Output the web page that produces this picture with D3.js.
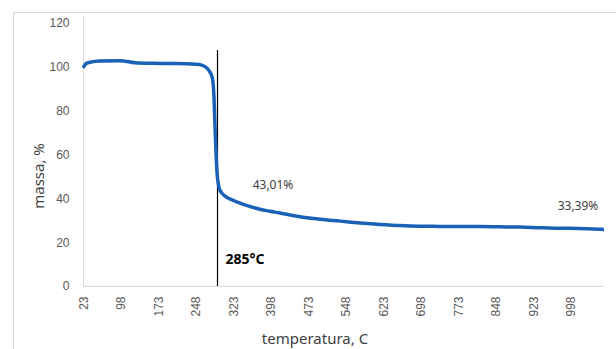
<!DOCTYPE html>
<html>
<head>
<meta charset="utf-8">
<script src="https://cdn.jsdelivr.net/npm/d3@7"></script>
<style>
  body { margin: 0; background: #fff; }
  svg { display: block; font-family: "Noto Sans", "Open Sans", sans-serif; }
</style>
</head>
<body>
<script>
// temperatura (C) e massa (%)
const temps = [23, 30, 37, 57, 97, 127, 160, 197, 230, 247, 260, 267, 272, 277, 281, 283, 285, 287, 289, 291, 293, 295, 298, 301, 306, 311, 320, 337, 357, 377, 397, 417, 437, 457, 497, 537, 577, 617, 657, 697, 737, 777, 817, 857, 897, 937, 967, 997, 1030, 1065];
const massa = [99.5, 101.6, 102.1, 102.7, 102.8, 101.9, 101.6, 101.5, 101.4, 101.2, 100.8, 100.1, 99.2, 97.6, 95.5, 93, 86, 73, 61, 52, 47.5, 45, 43.3, 42.3, 41.2, 40.4, 39.4, 37.8, 36.3, 35, 34.1, 33.3, 32.4, 31.6, 30.5, 29.6, 28.7, 28.1, 27.6, 27.3, 27.2, 27.1, 27.1, 27, 26.9, 26.6, 26.4, 26.3, 26.1, 25.8];

const xTicks = [23, 98, 173, 248, 323, 398, 473, 548, 623, 698, 773, 848, 923, 998];
const yTicks = [0, 20, 40, 60, 80, 100, 120];

const markerTemp = 292;          // posição da linha vertical
const markerLabel = "285°C";
const annotations = [
    { t: 403, v: 43.01, text: "43,01%" },
    { t: 1013, v: 33.39, text: "33,39%" }
];

const width = 616, height = 349;

const svg = d3.select("body")
    .append("svg")
    .attr("width", width)
    .attr("height", height);

// moldura do gráfico
svg.append("path")
    .attr("d", `M13.5,${height} V12.5 H${width}`)
    .attr("fill", "none")
    .attr("stroke", "#d9d9d9");

const x = d3.scaleLinear().domain([23, 1065]).range([83, 604]);
const y = d3.scaleLinear().domain([0, 120]).range([286, 23]);

// eixo Y
const yAxis = svg.append("g")
    .attr("transform", "translate(83.5,0)")
    .call(d3.axisLeft(y).tickValues(yTicks).tickSize(0).tickPadding(14));
yAxis.select(".domain").attr("stroke", "#d9d9d9").attr("d", `M0,16V${y(0)}`);
yAxis.selectAll("text")
    .style("font-size", "12px")
    .attr("fill", "#595959");

// eixo X
const xAxis = svg.append("g")
    .attr("transform", `translate(0,${y(0) + 0.5})`)
    .call(d3.axisBottom(x).tickValues(xTicks).tickFormat(d3.format("d")).tickSize(0));
xAxis.select(".domain").attr("stroke", "#d9d9d9").attr("d", `M${x(23)},0H${x(1065)}`);
xAxis.selectAll("text")
    .style("font-size", "12px")
    .attr("fill", "#595959")
    .attr("transform", "rotate(-90)")
    .attr("text-anchor", "end")
    .attr("x", -10)
    .attr("y", 0)
    .attr("dy", "0.35em");

// linha vertical
svg.append("line")
    .attr("x1", x(markerTemp)).attr("x2", x(markerTemp))
    .attr("y1", 50).attr("y2", y(0))
    .attr("stroke", "#000")
    .attr("stroke-width", 1.2);

// curva
const line = d3.line()
    .x((d, i) => x(temps[i]))
    .y(d => y(d))
    .curve(d3.curveMonotoneX);

svg.append("path")
    .datum(massa)
    .attr("d", line)
    .attr("fill", "none")
    .attr("stroke", "#1a62b7")
    .attr("stroke-width", 3.5)
    .attr("stroke-linejoin", "round");

// rótulos
svg.selectAll(".ann")
    .data(annotations)
    .enter().append("text")
    .attr("class", "ann")
    .attr("x", d => x(d.t))
    .attr("y", d => y(d.v) - 3)
    .attr("text-anchor", "middle")
    .style("font-size", "12px")
    .attr("fill", "#404040")
    .text(d => d.text);

svg.append("text")
    .attr("x", x(markerTemp) + 8)
    .attr("y", 264)
    .style("font-size", "14px")
    .style("font-weight", "bold")
    .attr("fill", "#000")
    .text(markerLabel);

// títulos dos eixos
svg.append("text")
    .attr("transform", "translate(44,176) rotate(-90)")
    .attr("text-anchor", "middle")
    .style("font-size", "15px")
    .attr("fill", "#404040")
    .text("massa, %");

svg.append("text")
    .attr("x", 315)
    .attr("y", 344)
    .attr("text-anchor", "middle")
    .style("font-size", "15px")
    .attr("fill", "#404040")
    .text("temperatura, C");
</script>
</body>
</html>
